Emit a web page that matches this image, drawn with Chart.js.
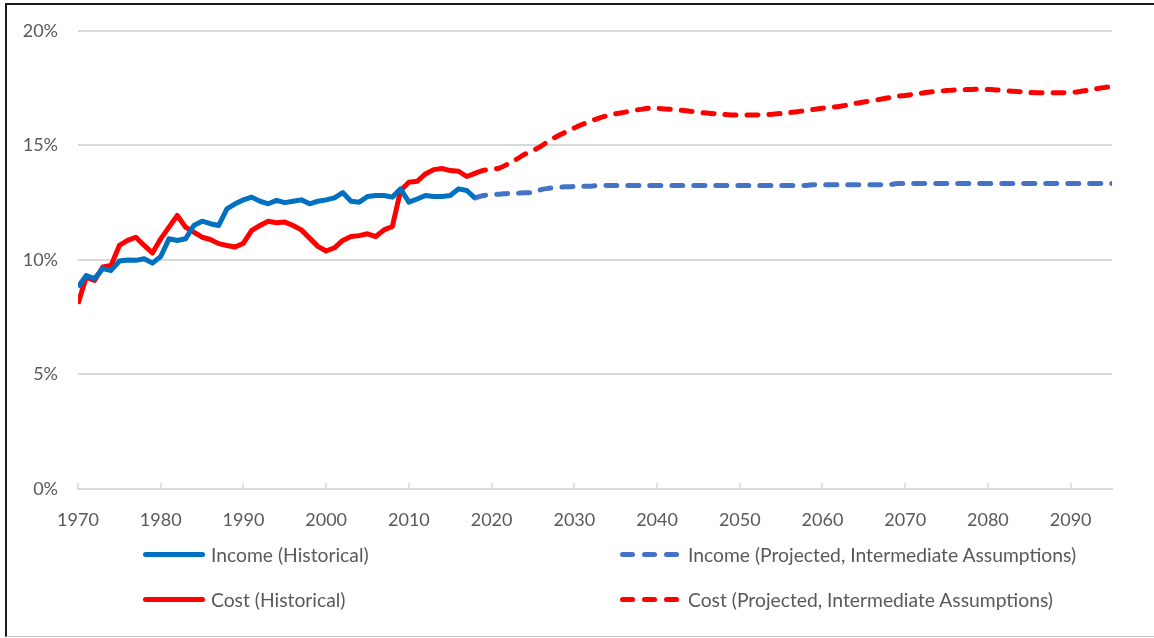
<!DOCTYPE html>
<html>
<head>
<meta charset="utf-8">
<script src="https://cdn.jsdelivr.net/npm/chart.js@4.4.1/dist/chart.umd.min.js"></script>
<style>
  body { margin: 0; background: #fff; }
  #wrap { position: relative; width: 1154px; height: 638px; overflow: hidden; font-family: Lato, sans-serif; }
  #frame { position: absolute; left: 5px; top: 3px; width: 1170px; height: 631px;
           border-left: 2px solid #1a1a1a; border-top: 2px solid #1a1a1a; border-bottom: 1px solid #c8c8c8; pointer-events: none; }
  .leg { position: absolute; height: 24px; display: flex; align-items: center; font-size: 19.3px; color: #595959; white-space: nowrap; }
  .sample { display: flex; align-items: center; }
  .seg { height: 5px; border-radius: 3px; }
</style>
</head>
<body>
<div id="wrap">
  <canvas id="chart" width="1154" height="638"></canvas>
  <div id="legend"></div>
  <div id="frame"></div>
</div>
<script>
// data (percent of taxable payroll)
const histStart = 1970;
const projStart = 2018;

const incomeHist = [
  8.82, 9.32, 9.18, 9.62, 9.54, 9.95, 10.00, 9.98, 10.05, 9.86,
  10.15, 10.92, 10.85, 10.92, 11.50, 11.69, 11.58, 11.50, 12.23, 12.45,
  12.62, 12.74, 12.56, 12.45, 12.60, 12.50, 12.56, 12.62, 12.45, 12.56,
  12.62, 12.71, 12.94, 12.56, 12.52, 12.77, 12.81, 12.81, 12.74, 13.10,
  12.52, 12.66, 12.81, 12.77, 12.77, 12.81, 13.10, 13.03, 12.70
];
const costHist = [
  8.09, 9.25, 9.10, 9.69, 9.76, 10.63, 10.85, 10.99, 10.63, 10.30,
  10.92, 11.43, 11.94, 11.43, 11.21, 10.99, 10.89, 10.71, 10.63, 10.56,
  10.73, 11.29, 11.50, 11.69, 11.62, 11.65, 11.50, 11.31, 10.95, 10.59,
  10.39, 10.53, 10.85, 11.02, 11.06, 11.14, 11.02, 11.31, 11.46, 13.03,
  13.39, 13.43, 13.75, 13.94, 13.99, 13.90, 13.87, 13.64, 13.78
];
const incomeProj = [
  12.70, 12.81, 12.85, 12.87, 12.90, 12.91, 12.93, 12.94, 13.07, 13.13,
  13.17, 13.19, 13.20, 13.21, 13.22, 13.25, 13.25, 13.25, 13.25, 13.25,
  13.25, 13.25, 13.25, 13.25, 13.25, 13.25, 13.25, 13.25, 13.25, 13.25,
  13.25, 13.25, 13.25, 13.25, 13.25, 13.25, 13.25, 13.25, 13.25, 13.25,
  13.25, 13.28, 13.28, 13.28, 13.28, 13.28, 13.28, 13.28, 13.28, 13.28,
  13.28, 13.33, 13.33, 13.33, 13.33, 13.33, 13.33, 13.33, 13.33, 13.33,
  13.33, 13.33, 13.33, 13.33, 13.33, 13.33, 13.33, 13.33, 13.33, 13.33,
  13.33, 13.33, 13.33, 13.33, 13.33, 13.33, 13.33, 13.33
];
const costProj = [
  13.78, 13.91, 13.94, 14.02, 14.19, 14.39, 14.61, 14.77, 14.97, 15.21,
  15.41, 15.59, 15.76, 15.92, 16.06, 16.19, 16.30, 16.38, 16.44, 16.51,
  16.57, 16.62, 16.62, 16.59, 16.56, 16.53, 16.49, 16.44, 16.41, 16.38,
  16.35, 16.33, 16.33, 16.33, 16.33, 16.33, 16.36, 16.39, 16.43, 16.47,
  16.52, 16.57, 16.62, 16.66, 16.70, 16.76, 16.83, 16.89, 16.95, 17.01,
  17.08, 17.14, 17.18, 17.23, 17.28, 17.33, 17.36, 17.39, 17.42, 17.43,
  17.44, 17.46, 17.44, 17.42, 17.39, 17.36, 17.34, 17.31, 17.30, 17.30,
  17.30, 17.30, 17.31, 17.34, 17.40, 17.46, 17.52, 17.57
];

const seriesNames = [
  'Income (Historical)',
  'Cost (Historical)',
  'Income (Projected, Intermediate Assumptions)',
  'Cost (Projected, Intermediate Assumptions)'
];
const xTicks = [1970, 1980, 1990, 2000, 2010, 2020, 2030, 2040, 2050, 2060, 2070, 2080, 2090];
const yTicks = [0, 5, 10, 15, 20];

const textColor = '#595959';
const gridColor = '#d9d9d9';

function toPoints(start, values) {
    return values.map((v, i) => ({ x: start + i, y: v }));
}

// small tick marks pointing up from the x axis line
const upTicks = {
    id: 'upTicks',
    beforeDatasetsDraw(chart) {
        const { ctx, chartArea } = chart;
        const x = chart.scales.x;
        ctx.save();
        ctx.strokeStyle = gridColor;
        ctx.lineWidth = 1.5;
        x.ticks.forEach(t => {
            const px = Math.round(x.getPixelForValue(t.value));
            ctx.beginPath();
            ctx.moveTo(px, chartArea.bottom);
            ctx.lineTo(px, chartArea.bottom - 6);
            ctx.stroke();
        });
        ctx.restore();
    }
};

const chart = new Chart(document.getElementById('chart'), {
    type: 'line',
    data: {
        datasets: [
            { label: seriesNames[0], data: toPoints(histStart, incomeHist), borderColor: '#0070C0', borderWidth: 5, tension: 0 },
            { label: seriesNames[1], data: toPoints(histStart, costHist), borderColor: '#FF0000', borderWidth: 5, tension: 0 },
            { label: seriesNames[2], data: toPoints(projStart, incomeProj), borderColor: '#4472C4', borderWidth: 5, borderDash: [11, 11], borderCapStyle: 'round', tension: 0.3 },
            { label: seriesNames[3], data: toPoints(projStart, costProj), borderColor: '#FF0000', borderWidth: 5, borderDash: [11, 11], borderCapStyle: 'round', tension: 0.3 }
        ]
    },
    options: {
        responsive: false,
        animation: false,
        parsing: false,
        layout: { padding: { left: 0, top: 30, right: 42, bottom: 109 } },
        elements: { point: { radius: 0 }, line: { borderJoinStyle: 'round' } },
        plugins: { legend: { display: false }, tooltip: { enabled: false } },
        scales: {
            x: {
                type: 'linear',
                min: 1970,
                max: 2095,
                afterBuildTicks: s => { s.ticks = xTicks.map(v => ({ value: v })); },
                afterFit: s => { s.height = 40; },
                grid: { display: false },
                border: { color: gridColor, width: 2 },
                ticks: {
                    color: textColor,
                    font: { family: 'Lato', size: 18 },
                    padding: 12,
                    maxRotation: 0,
                    autoSkip: false,
                    callback: v => String(v)
                }
            },
            y: {
                min: 0,
                max: 20,
                afterBuildTicks: s => { s.ticks = yTicks.map(v => ({ value: v })); },
                afterFit: s => { s.width = 78; },
                grid: { color: gridColor, lineWidth: 2, drawTicks: false },
                border: { display: false },
                ticks: {
                    color: textColor,
                    font: { family: 'Lato', size: 18 },
                    padding: 20,
                    callback: v => v + '%'
                }
            }
        }
    },
    plugins: [upTicks]
});

// legend in two columns, built from the datasets
const legendBox = document.getElementById('legend');
const colLeft = [143, 620];
const rowMid = [554, 599];
chart.data.datasets.forEach((ds, i) => {
    const col = Math.floor(i / 2), row = i % 2;
    const item = document.createElement('div');
    item.className = 'leg';
    item.style.left = colLeft[col] + 'px';
    item.style.top = (rowMid[row] - 12) + 'px';
    const sample = document.createElement('span');
    sample.className = 'sample';
    if (ds.borderDash) {
        for (let k = 0; k < 3; k++) {
            const seg = document.createElement('span');
            seg.className = 'seg';
            seg.style.width = '15px';
            seg.style.marginRight = k < 2 ? '7px' : '9px';
            seg.style.background = ds.borderColor;
            sample.appendChild(seg);
        }
    } else {
        const seg = document.createElement('span');
        seg.className = 'seg';
        seg.style.width = '62px';
        seg.style.marginRight = '6px';
        seg.style.background = ds.borderColor;
        sample.appendChild(seg);
    }
    item.appendChild(sample);
    item.appendChild(document.createTextNode(ds.label));
    legendBox.appendChild(item);
});
</script>
</body>
</html>
